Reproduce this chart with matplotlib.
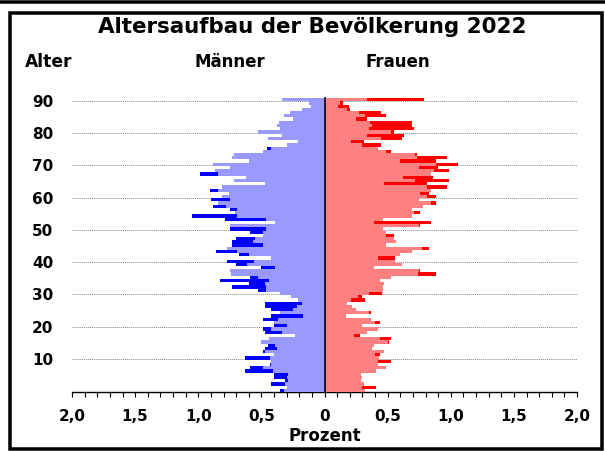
import numpy as np
import matplotlib.pyplot as plt
from matplotlib.patches import Rectangle
from matplotlib.lines import Line2D
from matplotlib.ticker import MultipleLocator, FuncFormatter

# Anteil an der Gesamtbevölkerung in Prozent, Alter 0 bis 90
alter = list(range(91))
maenner = [0.35, 0.30, 0.42, 0.31, 0.40, 0.40, 0.63, 0.59, 0.43, 0.42,
           0.63, 0.40, 0.49, 0.47, 0.45, 0.50, 0.44, 0.23, 0.47, 0.49,
           0.40, 0.40, 0.49, 0.42, 0.35, 0.42, 0.47, 0.47, 0.21, 0.265,
           0.35, 0.53, 0.73, 0.60, 0.83, 0.59, 0.74, 0.75, 0.50, 0.70,
           0.77, 0.42, 0.68, 0.86, 0.77, 0.73, 0.73, 0.70, 0.49, 0.59,
           0.75, 0.75, 0.39, 0.79, 1.05, 0.71, 0.75, 0.88, 0.84, 0.90,
           0.81, 0.76, 0.91, 0.81, 0.47, 0.72, 0.62, 0.985, 0.87, 0.75,
           0.88, 0.60, 0.73, 0.72, 0.49, 0.457, 0.30, 0.21, 0.45, 0.335,
           0.53, 0.35, 0.375, 0.36, 0.25, 0.32, 0.27, 0.18, 0.105, 0.12,
           0.335]
frauen = [0.32, 0.405, 0.31, 0.29, 0.30, 0.29, 0.405, 0.49, 0.42, 0.53,
          0.43, 0.44, 0.475, 0.375, 0.39, 0.51, 0.53, 0.28, 0.34, 0.42,
          0.30, 0.44, 0.37, 0.17, 0.37, 0.25, 0.22, 0.177, 0.317, 0.296,
          0.455, 0.46, 0.46, 0.475, 0.44, 0.53, 0.88, 0.76, 0.39, 0.615,
          0.56, 0.56, 0.60, 0.69, 0.83, 0.49, 0.565, 0.55, 0.55, 0.49,
          0.46, 0.76, 0.845, 0.46, 0.69, 0.76, 0.69, 0.78, 0.88, 0.745,
          0.88, 0.83, 0.845, 0.97, 0.81, 0.99, 0.86, 0.845, 0.99, 0.90,
          1.06, 0.88, 0.97, 0.73, 0.53, 0.42, 0.45, 0.31, 0.61, 0.63,
          0.55, 0.705, 0.69, 0.69, 0.335, 0.49, 0.45, 0.20, 0.195, 0.145,
          0.79]
y_ticks = [10, 20, 30, 40, 50, 60, 70, 80, 90]

m = np.array(maenner)
f = np.array(frauen)
gemeinsam = np.minimum(m, f)
y = np.array(alter) + 0.3

W, H = 605, 451
fig = plt.figure(figsize=(W / 100, H / 100), dpi=100)
ax = fig.add_axes([72 / W, 59 / H, 505 / W, 297.8 / H])

for g in y_ticks:
    ax.plot([-2, 2], [g, g], ls=(0, (1, 1)), color='#888888', lw=0.7, zorder=0)

# Überschuss dunkel, gemeinsamer Teil hell
ax.barh(y, -m, height=1.0, color='#0000ff', lw=0, zorder=2)
ax.barh(y, f, height=1.0, color='#ff0000', lw=0, zorder=2)
ax.barh(y, -gemeinsam, height=1.0, color='#9999ff', lw=0, zorder=3)
ax.barh(y, gemeinsam, height=1.0, color='#ff8080', lw=0, zorder=3)
ax.plot([0, 0], [-0.2, 90.8], color='black', lw=1.2, zorder=4)

ax.set_xlim(-2, 2)
ax.set_ylim(-0.2, 92)
for s in ['left', 'right', 'top']:
    ax.spines[s].set_visible(False)
ax.spines['bottom'].set_linewidth(1.0)

ax.xaxis.set_major_locator(MultipleLocator(0.5))
ax.xaxis.set_minor_locator(MultipleLocator(0.1))
ax.xaxis.set_major_formatter(FuncFormatter(
    lambda v, p: '0' if abs(v) < 1e-9 else f'{abs(v):.1f}'.replace('.', ',')))
ax.tick_params(axis='x', which='both', direction='out', length=3.5, width=0.8,
               pad=9)
ax.tick_params(axis='x', which='major', labelsize=11)
for t in ax.get_xticklabels():
    t.set_fontweight('bold')

ax.set_yticks(y_ticks)
ax.set_yticklabels([str(v) for v in y_ticks], fontsize=11, fontweight='bold')
ax.tick_params(axis='y', length=0, pad=13.5)

fig.text(312 / W, 1 - 27 / H, 'Altersaufbau der Bevölkerung 2022',
         ha='center', va='center', fontsize=15.4, fontweight='bold')
fig.text(25 / W, 1 - 62 / H, 'Alter', ha='left', va='center',
         fontsize=12.3, fontweight='bold')
fig.text(230 / W, 1 - 62 / H, 'Männer', ha='center', va='center',
         fontsize=12, fontweight='bold')
fig.text(398 / W, 1 - 62 / H, 'Frauen', ha='center', va='center',
         fontsize=12, fontweight='bold')
fig.text(325 / W, 1 - 436 / H, 'Prozent', ha='center', va='center',
         fontsize=12, fontweight='bold')

# Rahmen
lw = 3.5 * 72 / 100
fig.add_artist(Rectangle((10 / W, 2 / H), 592 / W, (H - 12.5 - 2) / H,
                         transform=fig.transFigure, fill=False,
                         edgecolor='black', lw=lw))
fig.add_artist(Line2D([0, 1], [1 - 1.5 / H, 1 - 1.5 / H],
                      transform=fig.transFigure, color='black', lw=lw))

fig.savefig('out.png', dpi=100)
